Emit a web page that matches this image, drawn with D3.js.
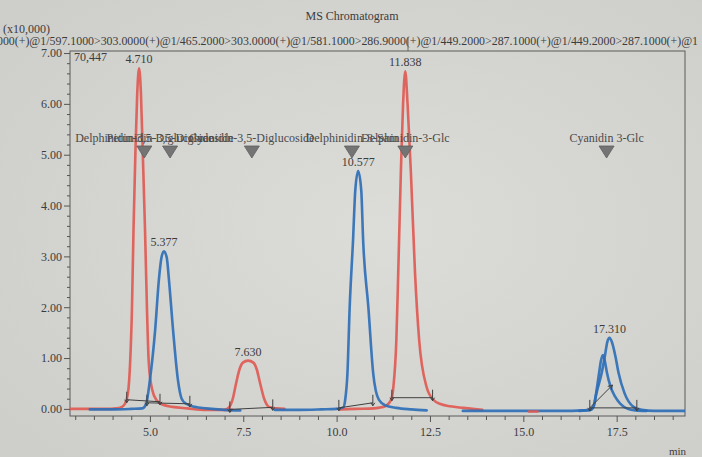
<!DOCTYPE html>
<html>
<head>
<meta charset="utf-8">
<script src="https://cdn.jsdelivr.net/npm/d3@7"></script>
<style>
  html, body { margin: 0; padding: 0; background: #d6d6d3; }
  svg { display: block; }
  text { font-family: "Liberation Serif", "DejaVu Serif", serif; }
</style>
</head>
<body>
<svg id="chart" width="702" height="457"></svg>
<script>
// ---- chart text ----
const chartTitle = "MS Chromatogram";
const intensityUnit = "(x10,000)";
const channelText = "000(+)@1/597.1000>303.0000(+)@1/465.2000>303.0000(+)@1/581.1000>286.9000(+)@1/449.2000>287.1000(+)@1/449.2000>287.1000(+)@1";
const maxIntensityText = "70,447";
const timeUnit = "min";

// ---- axis ticks ----
const yMajorTicks = [0, 1, 2, 3, 4, 5, 6, 7];
const yMinorTicks = d3.range(0, 7.01, 0.2).filter(v => Math.abs(v - Math.round(v)) > 0.01);
const xMajorTicks = [5.0, 7.5, 10.0, 12.5, 15.0, 17.5];
const xMinorTicks = d3.range(3.0, 19.01, 0.5).filter(t => !xMajorTicks.some(m => Math.abs(m - t) < 0.01));

// ---- traces: [retention time (min), intensity (x10,000)] ----
const redTraceA = [
  [2.86, 0.0], [3.3, 0.0], [3.8, 0.0], [4.1, 0.01], [4.25, 0.04], [4.33, 0.1],
  [4.41, 0.3], [4.47, 0.9], [4.52, 2.0], [4.56, 3.5], [4.61, 5.0], [4.66, 6.2],
  [4.71, 6.70], [4.76, 6.2], [4.81, 5.0], [4.87, 3.5], [4.92, 2.0], [4.97, 0.9],
  [5.06, 0.38], [5.18, 0.17], [5.35, 0.08], [5.6, 0.04], [6.0, 0.01],
  [6.5, -0.02], [7.2, -0.02]
];
const redTraceB = [
  [7.0, -0.02], [7.12, 0.03], [7.22, 0.2], [7.31, 0.51], [7.40, 0.78], [7.49, 0.91],
  [7.63, 0.95], [7.77, 0.91], [7.86, 0.78], [7.95, 0.51], [8.06, 0.2], [8.19, 0.04],
  [8.4, 0.01], [8.6, 0.0]
];
const redTraceC = [
  [10.1, -0.01], [10.5, 0.0], [11.0, 0.01], [11.2, 0.03], [11.32, 0.06], [11.46, 0.18],
  [11.52, 0.43], [11.60, 1.36], [11.65, 2.67], [11.72, 4.64], [11.78, 6.0],
  [11.838, 6.64], [11.90, 6.0], [11.99, 4.64], [12.10, 2.67], [12.21, 1.36],
  [12.41, 0.43], [12.59, 0.18], [12.8, 0.09], [13.04, 0.05], [13.4, 0.02], [13.9, -0.02]
];
const redTraceD = [[15.15, -0.05], [15.38, -0.05]];

const blueTraceA = [
  [3.39, -0.01], [4.0, -0.01], [4.5, 0.0], [4.8, 0.01], [4.9, 0.1], [5.0, 0.57],
  [5.14, 1.55], [5.24, 2.54], [5.31, 2.98], [5.377, 3.10], [5.45, 2.98], [5.51, 2.54],
  [5.62, 1.55], [5.75, 0.57], [5.85, 0.2], [5.97, 0.1], [6.2, 0.04], [6.5, 0.01],
  [7.0, -0.02], [7.42, -0.03]
];
const blueTraceB = [
  [8.35, -0.02], [9.0, -0.02], [9.6, -0.01], [10.0, 0.0], [10.18, 0.03], [10.23, 0.18],
  [10.29, 0.7], [10.35, 2.0], [10.44, 3.32], [10.50, 4.3], [10.577, 4.68], [10.66, 4.3],
  [10.71, 3.32], [10.85, 2.0], [10.98, 0.7], [11.13, 0.18], [11.3, 0.07], [11.6, 0.02],
  [12.0, -0.01], [12.41, -0.03]
];
const blueTraceC = [
  [13.38, -0.04], [14.0, -0.04], [15.0, -0.04], [16.0, -0.04], [16.6, -0.03],
  [16.8, -0.02], [16.88, 0.04], [16.96, 0.31], [17.10, 0.71], [17.18, 1.02],
  [17.25, 1.32], [17.31, 1.40], [17.37, 1.32], [17.47, 1.02], [17.55, 0.71],
  [17.71, 0.31], [17.95, 0.04], [18.17, -0.02], [18.5, -0.04], [19.33, -0.04]
];
const blueTraceD = [
  [16.5, -0.04], [16.8, -0.02], [16.88, 0.05], [16.95, 0.31], [17.03, 0.71],
  [17.08, 0.95], [17.13, 1.06], [17.18, 0.95], [17.24, 0.71], [17.33, 0.45],
  [17.45, 0.25], [17.6, 0.1], [17.8, 0.0], [18.0, -0.03], [18.3, -0.04]
];

// ---- labelled peaks: retention time and apex intensity ----
const peakTimes = [4.710, 5.377, 7.630, 10.577, 11.838, 17.310];
const peakHeights = [6.70, 3.10, 0.95, 4.68, 6.64, 1.40];

// ---- compound markers ----
const compoundNames = [
  "Delphinidin-3,5-Diglucoside", "Petunidin-3,5-Diglucoside", "Cyanidin-3,5-Diglucoside",
  "Delphinidin-3-Sam", "Delphinidin-3-Glc", "Cyanidin 3-Glc"
];
const compoundTimes = [4.85, 5.54, 7.73, 10.41, 11.84, 17.23];

// ---- integration baselines: [t1, v1, t2, v2] ----
const integrationLines = [
  [4.38, 0.18, 5.27, 0.14], [4.92, 0.12, 6.07, 0.10], [7.14, -0.01, 8.29, 0.03],
  [10.06, 0.02, 10.97, 0.12], [11.48, 0.22, 12.57, 0.22], [16.78, 0.02, 18.04, 0.02]
];
const integrationArrow = [16.78, 0.02, 17.39, 0.47];

// ---- layout ----
const svg = d3.select("#chart");
const plot = { left: 70, right: 685, top: 51, bottom: 416 };
const x = d3.scaleLinear().domain([2.86, 19.33]).range([plot.left, plot.right]);
const y = d3.scaleLinear().domain([-0.14, 7.04]).range([plot.bottom, plot.top]);

const RED = "#df5a52";
const BLUE = "#2e6fb6";
const INK = "#3c3c3c";

// paper background
const defs = svg.append("defs");
const grad = defs.append("radialGradient").attr("id", "paper").attr("cx", "55%").attr("cy", "50%").attr("r", "70%");
grad.append("stop").attr("offset", "0%").attr("stop-color", "#dcdcd9");
grad.append("stop").attr("offset", "100%").attr("stop-color", "#cececb");
svg.append("rect").attr("width", 702).attr("height", 457).attr("fill", "url(#paper)");

defs.append("clipPath").attr("id", "plotClip")
  .append("rect").attr("x", plot.left).attr("y", plot.top - 30)
  .attr("width", plot.right - plot.left).attr("height", plot.bottom - plot.top + 30);

// header
svg.append("text").attr("x", 352).attr("y", 20).attr("text-anchor", "middle")
  .attr("font-size", 12).attr("fill", INK).text(chartTitle);
svg.append("text").attr("x", 3).attr("y", 33)
  .attr("font-size", 12).attr("fill", INK).text(intensityUnit);
svg.append("text").attr("x", -3).attr("y", 45)
  .attr("font-size", 12).attr("fill", INK)
  .attr("textLength", 701).attr("lengthAdjust", "spacingAndGlyphs").text(channelText);
svg.append("line").attr("x1", 408).attr("x2", 408).attr("y1", 37).attr("y2", plot.top)
  .attr("stroke", "#666").attr("stroke-width", 1);

// frame
svg.append("rect").attr("x", plot.left).attr("y", plot.top)
  .attr("width", plot.right - plot.left).attr("height", plot.bottom - plot.top)
  .attr("fill", "none").attr("stroke", "#5a5a5a").attr("stroke-width", 1);

// y axis
const yAxis = svg.append("g").attr("transform", `translate(${plot.left},0)`)
  .call(d3.axisLeft(y).tickValues(yMajorTicks).tickFormat(d3.format(".2f")).tickSize(6).tickPadding(2));
svg.append("g").attr("transform", `translate(${plot.left},0)`)
  .call(d3.axisLeft(y).tickValues(yMinorTicks).tickFormat("").tickSize(3));

// x axis
const xAxis = svg.append("g").attr("transform", `translate(0,${plot.bottom})`)
  .call(d3.axisBottom(x).tickValues(xMajorTicks).tickFormat(d3.format(".1f")).tickSize(6).tickPadding(5));
svg.append("g").attr("transform", `translate(0,${plot.bottom})`)
  .call(d3.axisBottom(x).tickValues(xMinorTicks).tickFormat("").tickSize(4));

svg.selectAll(".domain").remove();
svg.selectAll(".tick line").attr("stroke", "#555");
svg.selectAll(".tick text").attr("font-family", "Liberation Serif, serif")
  .attr("font-size", 12).attr("fill", INK);

svg.append("text").attr("x", 669).attr("y", 455).attr("font-size", 11)
  .attr("fill", INK).text(timeUnit);

// max intensity
svg.append("text").attr("x", plot.left + 4).attr("y", 61)
  .attr("font-size", 12).attr("fill", INK).text(maxIntensityText);

// traces
const line = d3.line().x(d => x(d[0])).y(d => y(d[1])).curve(d3.curveMonotoneX);
const traceLayer = svg.append("g").attr("clip-path", "url(#plotClip)");
const traces = [
  [redTraceA, RED], [redTraceB, RED], [redTraceC, RED],
  [blueTraceA, BLUE], [blueTraceB, BLUE], [blueTraceC, BLUE], [blueTraceD, BLUE],
  [redTraceD, RED]
];
traceLayer.selectAll("path.trace").data(traces).join("path")
  .attr("class", "trace")
  .attr("d", d => line(d[0]))
  .attr("fill", "none")
  .attr("stroke", d => d[1])
  .attr("stroke-width", 2.6)
  .attr("stroke-linejoin", "round")
  .attr("stroke-linecap", "round")
  .attr("stroke-opacity", 0.92);

// integration baselines with drop marks
const integ = svg.append("g").attr("stroke", "#3f3f3f").attr("stroke-width", 1).attr("fill", "none");
integ.selectAll("line.base").data(integrationLines).join("line")
  .attr("x1", d => x(d[0])).attr("y1", d => y(d[1]))
  .attr("x2", d => x(d[2])).attr("y2", d => y(d[3]));
const dropPoints = integrationLines.flatMap(d => [[d[0], d[1]], [d[2], d[3]]]);
integ.selectAll("path.drop").data(dropPoints).join("path")
  .attr("d", d => {
    const px = x(d[0]), py = y(d[1]);
    return `M${px},${py - 8}L${px},${py + 3}M${px - 2},${py}L${px},${py + 3}L${px + 2},${py}`;
  });
{
  const [t1, v1, t2, v2] = integrationArrow;
  const x1 = x(t1), y1 = y(v1), x2 = x(t2), y2 = y(v2);
  const ang = Math.atan2(y2 - y1, x2 - x1);
  integ.append("line").attr("x1", x1).attr("y1", y1).attr("x2", x2).attr("y2", y2);
  integ.append("path").attr("d",
    `M${x2 - 5 * Math.cos(ang - 0.5)},${y2 - 5 * Math.sin(ang - 0.5)}L${x2},${y2}L${x2 - 5 * Math.cos(ang + 0.5)},${y2 - 5 * Math.sin(ang + 0.5)}`);
}

// peak retention-time labels
svg.selectAll("text.peak").data(peakTimes).join("text")
  .attr("class", "peak")
  .attr("x", d => x(d))
  .attr("y", (d, i) => y(peakHeights[i]) - 5)
  .attr("text-anchor", "middle")
  .attr("font-size", 12).attr("fill", INK)
  .text(d => d3.format(".3f")(d));

// compound markers
const markerTop = 146;
const cmp = svg.append("g");
cmp.selectAll("text").data(compoundNames).join("text")
  .attr("x", (d, i) => x(compoundTimes[i]))
  .attr("y", markerTop - 4)
  .attr("text-anchor", "middle")
  .attr("font-size", 12).attr("fill", "#4a4a4a")
  .text(d => d);
cmp.selectAll("path").data(compoundTimes).join("path")
  .attr("d", d => `M${x(d) - 7.5},${markerTop}L${x(d) + 7.5},${markerTop}L${x(d)},${markerTop + 12}Z`)
  .attr("fill", "#747474").attr("stroke", "#5e5e5e").attr("stroke-width", 0.8);
</script>
</body>
</html>
